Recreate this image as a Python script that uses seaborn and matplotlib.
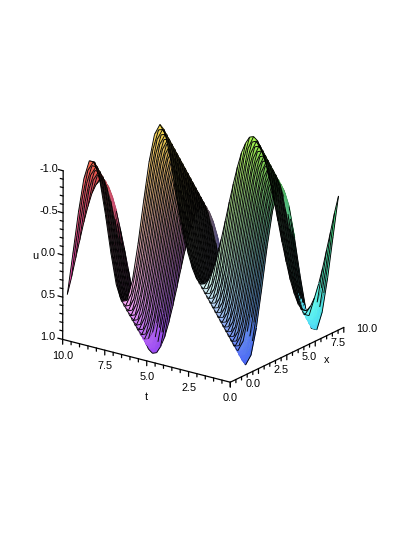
#!/usr/bin/env python
# coding: utf-8
import numpy as np
import matplotlib
matplotlib.use('Agg')
import matplotlib.pyplot as plt
import seaborn as sns
from mpl_toolkits.mplot3d import proj3d
from mpl_toolkits.mplot3d.art3d import Poly3DCollection

x_grid = [0, .5, 1, 1.5, 2, 2.5, 3, 3.5, 4, 4.5, 5, 5.5, 6, 6.5, 7, 7.5, 8, 8.5, 9, 9.5, 10]
t_grid = [0, .25, .5, .75, 1, 1.25, 1.5, 1.75, 2, 2.25, 2.5, 2.75, 3, 3.25, 3.5, 3.75, 4, 4.25, 4.5, 4.75, 5,
          5.25, 5.5, 5.75, 6, 6.25, 6.5, 6.75, 7, 7.25, 7.5, 7.75, 8, 8.25, 8.5, 8.75, 9, 9.25, 9.5, 9.75, 10]

# one row per t value, one column per x value
u_grid = [
    [0, .48, .84, 1, .91, .6, .14, -.35, -.76, -.98, -.96, -.71, -.28, .22, .66, .94, .99, .8, .41, -.07, -.54],
    [-.25, .25, .68, .95, .98, .78, .38, -.11, -.57, -.89, -1, -.86, -.51, -.03, .45, .82, .99, .92, .62, .17, -.32],
    [-.48, 0, .48, .84, 1, .91, .6, .14, -.35, -.76, -.98, -.96, -.71, -.28, .22, .66, .94, .99, .8, .41, -.07],
    [-.68, -.25, .25, .68, .95, .98, .78, .38, -.11, -.57, -.89, -1, -.86, -.51, -.03, .45, .82, .99, .92, .62, .17],
    [-.84, -.48, 0, .48, .84, 1, .91, .6, .14, -.35, -.76, -.98, -.96, -.71, -.28, .22, .66, .94, .99, .8, .41],
    [-.95, -.68, -.25, .25, .68, .95, .98, .78, .38, -.11, -.57, -.89, -1, -.86, -.51, -.03, .45, .82, .99, .92, .62],
    [-1, -.84, -.48, 0, .48, .84, 1, .91, .6, .14, -.35, -.76, -.98, -.96, -.71, -.28, .22, .66, .94, .99, .8],
    [-.98, -.95, -.68, -.25, .25, .68, .95, .98, .78, .38, -.11, -.57, -.89, -1, -.86, -.51, -.03, .45, .82, .99, .92],
    [-.91, -1, -.84, -.48, 0, .48, .84, 1, .91, .6, .14, -.35, -.76, -.98, -.96, -.71, -.28, .22, .66, .94, .99],
    [-.78, -.98, -.95, -.68, -.25, .25, .68, .95, .98, .78, .38, -.11, -.57, -.89, -1, -.86, -.51, -.03, .45, .82, .99],
    [-.6, -.91, -1, -.84, -.48, 0, .48, .84, 1, .91, .6, .14, -.35, -.76, -.98, -.96, -.71, -.28, .22, .66, .94],
    [-.38, -.78, -.98, -.95, -.68, -.25, .25, .68, .95, .98, .78, .38, -.11, -.57, -.89, -1, -.86, -.51, -.03, .45, .82],
    [-.14, -.6, -.91, -1, -.84, -.48, 0, .48, .84, 1, .91, .6, .14, -.35, -.76, -.98, -.96, -.71, -.28, .22, .66],
    [.11, -.38, -.78, -.98, -.95, -.68, -.25, .25, .68, .95, .98, .78, .38, -.11, -.57, -.89, -1, -.86, -.51, -.03, .45],
    [.35, -.14, -.6, -.91, -1, -.84, -.48, 0, .48, .84, 1, .91, .6, .14, -.35, -.76, -.98, -.96, -.71, -.28, .22],
    [.57, .11, -.38, -.78, -.98, -.95, -.68, -.25, .25, .68, .95, .98, .78, .38, -.11, -.57, -.89, -1, -.86, -.51, -.03],
    [.76, .35, -.14, -.6, -.91, -1, -.84, -.48, 0, .48, .84, 1, .91, .6, .14, -.35, -.76, -.98, -.96, -.71, -.28],
    [.89, .57, .11, -.38, -.78, -.98, -.95, -.68, -.25, .25, .68, .95, .98, .78, .38, -.11, -.57, -.89, -1, -.86, -.51],
    [.98, .76, .35, -.14, -.6, -.91, -1, -.84, -.48, 0, .48, .84, 1, .91, .6, .14, -.35, -.76, -.98, -.96, -.71],
    [1, .89, .57, .11, -.38, -.78, -.98, -.95, -.68, -.25, .25, .68, .95, .98, .78, .38, -.11, -.57, -.89, -1, -.86],
    [.96, .98, .76, .35, -.14, -.6, -.91, -1, -.84, -.48, 0, .48, .84, 1, .91, .6, .14, -.35, -.76, -.98, -.96],
    [.86, 1, .89, .57, .11, -.38, -.78, -.98, -.95, -.68, -.25, .25, .68, .95, .98, .78, .38, -.11, -.57, -.89, -1],
    [.71, .96, .98, .76, .35, -.14, -.6, -.91, -1, -.84, -.48, 0, .48, .84, 1, .91, .6, .14, -.35, -.76, -.98],
    [.51, .86, 1, .89, .57, .11, -.38, -.78, -.98, -.95, -.68, -.25, .25, .68, .95, .98, .78, .38, -.11, -.57, -.89],
    [.28, .71, .96, .98, .76, .35, -.14, -.6, -.91, -1, -.84, -.48, 0, .48, .84, 1, .91, .6, .14, -.35, -.76],
    [.03, .51, .86, 1, .89, .57, .11, -.38, -.78, -.98, -.95, -.68, -.25, .25, .68, .95, .98, .78, .38, -.11, -.57],
    [-.22, .28, .71, .96, .98, .76, .35, -.14, -.6, -.91, -1, -.84, -.48, 0, .48, .84, 1, .91, .6, .14, -.35],
    [-.45, .03, .51, .86, 1, .89, .57, .11, -.38, -.78, -.98, -.95, -.68, -.25, .25, .68, .95, .98, .78, .38, -.11],
    [-.66, -.22, .28, .71, .96, .98, .76, .35, -.14, -.6, -.91, -1, -.84, -.48, 0, .48, .84, 1, .91, .6, .14],
    [-.82, -.45, .03, .51, .86, 1, .89, .57, .11, -.38, -.78, -.98, -.95, -.68, -.25, .25, .68, .95, .98, .78, .38],
    [-.94, -.66, -.22, .28, .71, .96, .98, .76, .35, -.14, -.6, -.91, -1, -.84, -.48, 0, .48, .84, 1, .91, .6],
    [-.99, -.82, -.45, .03, .51, .86, 1, .89, .57, .11, -.38, -.78, -.98, -.95, -.68, -.25, .25, .68, .95, .98, .78],
    [-.99, -.94, -.66, -.22, .28, .71, .96, .98, .76, .35, -.14, -.6, -.91, -1, -.84, -.48, 0, .48, .84, 1, .91],
    [-.92, -.99, -.82, -.45, .03, .51, .86, 1, .89, .57, .11, -.38, -.78, -.98, -.95, -.68, -.25, .25, .68, .95, .98],
    [-.8, -.99, -.94, -.66, -.22, .28, .71, .96, .98, .76, .35, -.14, -.6, -.91, -1, -.84, -.48, 0, .48, .84, 1],
    [-.62, -.92, -.99, -.82, -.45, .03, .51, .86, 1, .89, .57, .11, -.38, -.78, -.98, -.95, -.68, -.25, .25, .68, .95],
    [-.41, -.8, -.99, -.94, -.66, -.22, .28, .71, .96, .98, .76, .35, -.14, -.6, -.91, -1, -.84, -.48, 0, .48, .84],
    [-.17, -.62, -.92, -.99, -.82, -.45, .03, .51, .86, 1, .89, .57, .11, -.38, -.78, -.98, -.95, -.68, -.25, .25, .68],
    [.07, -.41, -.8, -.99, -.94, -.66, -.22, .28, .71, .96, .98, .76, .35, -.14, -.6, -.91, -1, -.84, -.48, 0, .48],
    [.32, -.17, -.62, -.92, -.99, -.82, -.45, .03, .51, .86, 1, .89, .57, .11, -.38, -.78, -.98, -.95, -.68, -.25, .25],
    [.54, .07, -.41, -.8, -.99, -.94, -.66, -.22, .28, .71, .96, .98, .76, .35, -.14, -.6, -.91, -1, -.84, -.48, 0],
]

x_ticks = [0.0, 2.5, 5.0, 7.5, 10.0]
t_ticks = [0.0, 2.5, 5.0, 7.5, 10.0]
u_ticks = [-1.0, -0.5, 0.0, 0.5, 1.0]
x_minor = [0.5 * i for i in range(21)]
t_minor = [0.5 * i for i in range(21)]
u_minor = [round(-1 + 0.1 * i, 1) for i in range(21)]


# the reference's frame stands slightly clear of the surface
def fx(v):
    return 5 + 1.035 * (v - 5)


def fu(v):
    return 0.05 + 1.05 * v


def surface_polys(X, T, U, toward_viewer):
    """Coloured cells plus mesh lines; lines sit a little toward the viewer so they sort after their cells."""
    P = np.dstack([X, T, U])
    rgb = np.clip(0.28 + 0.7 * np.dstack([T / 10, X / 10, (U + 1) / 2]), 0, 1)
    verts, faces, edges = [], [], []
    rows, cols = U.shape

    def flat_patch(u, x, t, rising):
        # the reference shows plain colour at the low end of the troughs and ridges
        if u > 0.75 and min(x, t) < 1.5:
            return True
        return rising and -0.85 < u < -0.35 and min(x, t) < 1.1

    for i in range(rows - 1):
        for j in range(cols - 1):
            u = U[i:i + 2, j:j + 2].mean()
            x = X[i:i + 2, j:j + 2].mean()
            t = T[i:i + 2, j:j + 2].mean()
            rise = U[i, j + 1] - U[i, j]
            colour = rgb[i:i + 2, j:j + 2].mean(axis=(0, 1))
            plain = flat_patch(u, x, t, rise > 0)
            if not plain and rise > 0.1:
                colour = colour * 0.2      # slopes turned away stay almost black
            verts.append([P[i, j], P[i, j + 1], P[i + 1, j + 1], P[i + 1, j]])
            faces.append((*colour, 1))
            edges.append((*colour, 1) if plain else (0, 0, 0, 0))

    # lines along x at each t
    for i in range(rows):
        for j in range(cols - 1):
            u = (U[i, j] + U[i, j + 1]) / 2
            x = (X[i, j] + X[i, j + 1]) / 2
            rise = U[i, j + 1] - U[i, j]
            on_edge = i in (0, rows - 1)
            if flat_patch(u, x, T[i, j], rise > 0) and not on_edge:
                continue
            a, b = P[i, j] + toward_viewer, P[i, j + 1] + toward_viewer
            verts.append([a, b, a])
            faces.append((0, 0, 0, 0))
            edges.append((0, 0, 0, 1))

    # softer lines along t at each x
    for i in range(rows - 1):
        for j in range(cols):
            u = (U[i, j] + U[i + 1, j]) / 2
            t = (T[i, j] + T[i + 1, j]) / 2
            rise = U[i, min(j + 1, cols - 1)] - U[i, max(j - 1, 0)]
            on_edge = j in (0, cols - 1)
            if flat_patch(u, X[i, j], t, rise > 0) and not on_edge:
                continue
            a, b = P[i, j] + toward_viewer, P[i + 1, j] + toward_viewer
            verts.append([a, b, a])
            faces.append((0, 0, 0, 0))
            edges.append((0, 0, 0, 1 if on_edge else 0.35))
    return verts, faces, edges


def main():
    sns.set_theme(style='white')
    plt.rcParams['font.family'] = ['Liberation Sans', 'DejaVu Sans']

    fig = plt.figure(figsize=(4.15, 5.37), dpi=100)
    ax = fig.add_axes([-10 / 415, 18 / 537, 1, 1], projection='3d', proj_type='persp', focal_length=8)
    ax.view_init(elev=21, azim=36, roll=180)
    ax.set_box_aspect((0.9, 0.97, 0.834), zoom=0.755)
    ax.set_xlim(0, 10)
    ax.set_ylim(0, 10)
    ax.set_zlim(-1, 1)
    ax.set_axis_off()
    ax.patch.set_alpha(0)

    X, T = np.meshgrid(x_grid, t_grid)
    U = np.array(u_grid)

    verts, faces, edges = surface_polys(X, T, U, np.array([0.25, 0.18, 0.03]))
    surf = Poly3DCollection(verts, facecolors=faces, edgecolors=edges, linewidths=0.65, zsort='average')
    ax.add_collection3d(surf)

    # axis lines
    kw = dict(color='black', lw=0.9, zorder=10)
    ax.plot([fx(0), fx(0)], [fx(0), fx(10)], [fu(1), fu(1)], **kw)
    ax.plot([fx(0), fx(10)], [fx(0), fx(0)], [fu(1), fu(1)], **kw)
    ax.plot([fx(0), fx(0)], [fx(10), fx(10)], [fu(-1), fu(1)], **kw)

    # tick marks
    for t in t_minor:
        d = 0.06 if t in t_ticks else 0.04
        ax.plot([fx(0), fx(0)], [fx(t), fx(t)], [fu(1), fu(1) + d], **kw)
    for x in x_minor:
        d = 0.06 if x in x_ticks else 0.04
        ax.plot([fx(x), fx(x)], [fx(0), fx(0)], [fu(1), fu(1) + d], **kw)
    for u in u_minor:
        d = 0.3 if u in u_ticks else 0.18
        ax.plot([fx(0), fx(0)], [fx(10), fx(10) + d], [fu(u), fu(u)], **kw)

    # labels are placed from the axes' own projection
    fig.canvas.draw()
    M = ax.get_proj()

    def label(x, t, u, s):
        px, py, _ = proj3d.proj_transform(x, t, u, M)
        ax.text2D(px, py, s, transform=ax.transData, ha='center', va='center',
                  fontsize=7.8, color='black', zorder=11)

    for t in t_ticks:
        label(fx(0), fx(t), fu(1) + 0.2, f'{t:.1f}')
    for x in x_ticks:
        label(fx(x), fx(0) - 1.4, fu(1) - 0.05, f'{x:.1f}')
    for u in u_ticks:
        label(fx(0), fx(10) + 0.9, fu(u) + 0.02, f'{u:.1f}')
    label(fx(0), fx(5), fu(1) + 0.45, 't')
    label(fx(7.5), fx(0) - 0.7, fu(1) + 0.2, 'x')
    label(fx(0), fx(10) + 1.7, fu(0.1), 'u')

    plt.savefig('out.png', dpi=100)


if __name__ == '__main__':
    main()
